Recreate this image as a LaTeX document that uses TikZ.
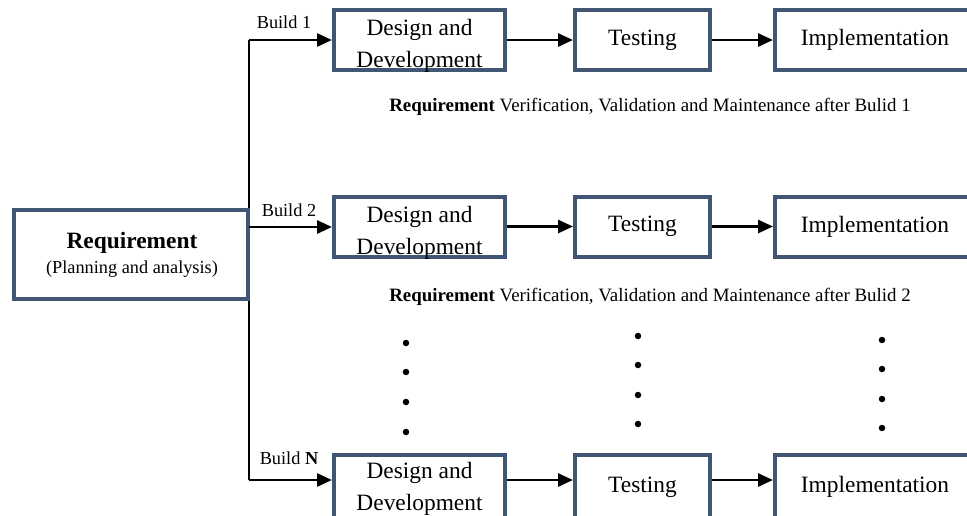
\documentclass[tikz,border=0pt]{standalone}
\usepackage{fontspec}
\setmainfont{Liberation Serif}
\usetikzlibrary{arrows.meta}
\definecolor{boxblue}{RGB}{64,86,116}
\begin{document}
\begin{tikzpicture}[x=1pt,y=-1pt,
  stage/.style={draw=boxblue,line width=4pt,fill=white,minimum height=60pt,inner sep=0pt,
                font=\fontsize{23.4}{32}\selectfont},
  bigtxt/.style={font=\fontsize{23.4}{32}\selectfont,inner sep=0pt,align=center},
  smalltxt/.style={font=\fontsize{18.3}{22}\selectfont,inner sep=0pt},
  notetxt/.style={font=\fontsize{18.9}{22}\selectfont,inner sep=0pt},
  flow/.style={line width=2.8pt,-{Triangle[length=15pt,width=13pt]}},
  trunk/.style={line width=2.6pt},
  dot/.style={circle,fill=black,inner sep=0pt,minimum size=6.5pt}]
\useasboundingbox (0,0) rectangle (967,515);
\clip (0,0) rectangle (967,515);

% trunk
\coordinate (j1) at (249,40);
\coordinate (j2) at (249,227);
\coordinate (jN) at (249,480);
\draw[trunk] (j1) -- (jN);

% requirement box
\node[stage,minimum width=234pt,minimum height=89pt] (req) at (131,254.5) {};
\node[font=\fontsize{23.4}{28}\selectfont\bfseries,inner sep=0pt,anchor=base] (reqt) at (132,248) {Requirement};
\node[smalltxt,anchor=base] (reqs) at (132,273) {(Planning and analysis)};

% row 1
\node[stage,minimum width=171pt] (dd1) at (419.5,40) {};
\node[bigtxt,anchor=north] (dd1t) at (419.5,19) {Design and\\Development};
\node[stage,minimum width=135pt] (t1) at (642.5,40) {Testing};
\node[stage,minimum width=200pt] (im1) at (875,40) {Implementation};
\draw[flow] (j1) -- (j1 -| dd1.west);
\draw[flow] (dd1) -- (t1);
\draw[flow] (t1) -- (im1);
\node[smalltxt,anchor=base] (b1) at (284,28) {Build 1};
\node[notetxt,anchor=base] (v1) at (650,111) {\textbf{Requirement} Verification, Validation and Maintenance after Bulid 1};

% row 2
\node[stage,minimum width=171pt] (dd2) at (419.5,226.5) {};
\node[bigtxt,anchor=north] (dd2t) at (419.5,206) {Design and\\Development};
\node[stage,minimum width=135pt] (t2) at (642.5,226.5) {Testing};
\node[stage,minimum width=200pt] (im2) at (875,226.5) {Implementation};
\draw[flow] (j2) -- (j2 -| dd2.west);
\draw[flow] (dd2) -- (t2);
\draw[flow] (t2) -- (im2);
\node[smalltxt,anchor=base] (b2) at (289,216) {Build 2};
\node[notetxt,anchor=base] (v2) at (650,301) {\textbf{Requirement} Verification, Validation and Maintenance after Bulid 2};

% dots
\foreach \y [count=\i] in {343,372,402,432} \node[dot] (da\i) at (406,\y) {};
\foreach \y [count=\i] in {336,365,395,424} \node[dot] (db\i) at (638,\y) {};
\foreach \y [count=\i] in {340,369,399,428} \node[dot] (dc\i) at (882,\y) {};

% row N
\node[stage,minimum width=171pt,minimum height=64pt] (ddN) at (419.5,487) {};
\node[bigtxt,anchor=north] (ddNt) at (419.5,462) {Design and\\Development};
\node[stage,minimum width=135pt,minimum height=64pt] (tN) at (642.5,487) {Testing};
\node[stage,minimum width=200pt,minimum height=64pt] (imN) at (875,487) {Implementation};
\draw[flow] (jN) -- (jN -| ddN.west);
\draw[flow] (ddN.east |- jN) -- (tN.west |- jN);
\draw[flow] (tN.east |- jN) -- (imN.west |- jN);
\node[smalltxt,anchor=base] (bN) at (289,464) {Build \textbf{N}};
\end{tikzpicture}
\end{document}
